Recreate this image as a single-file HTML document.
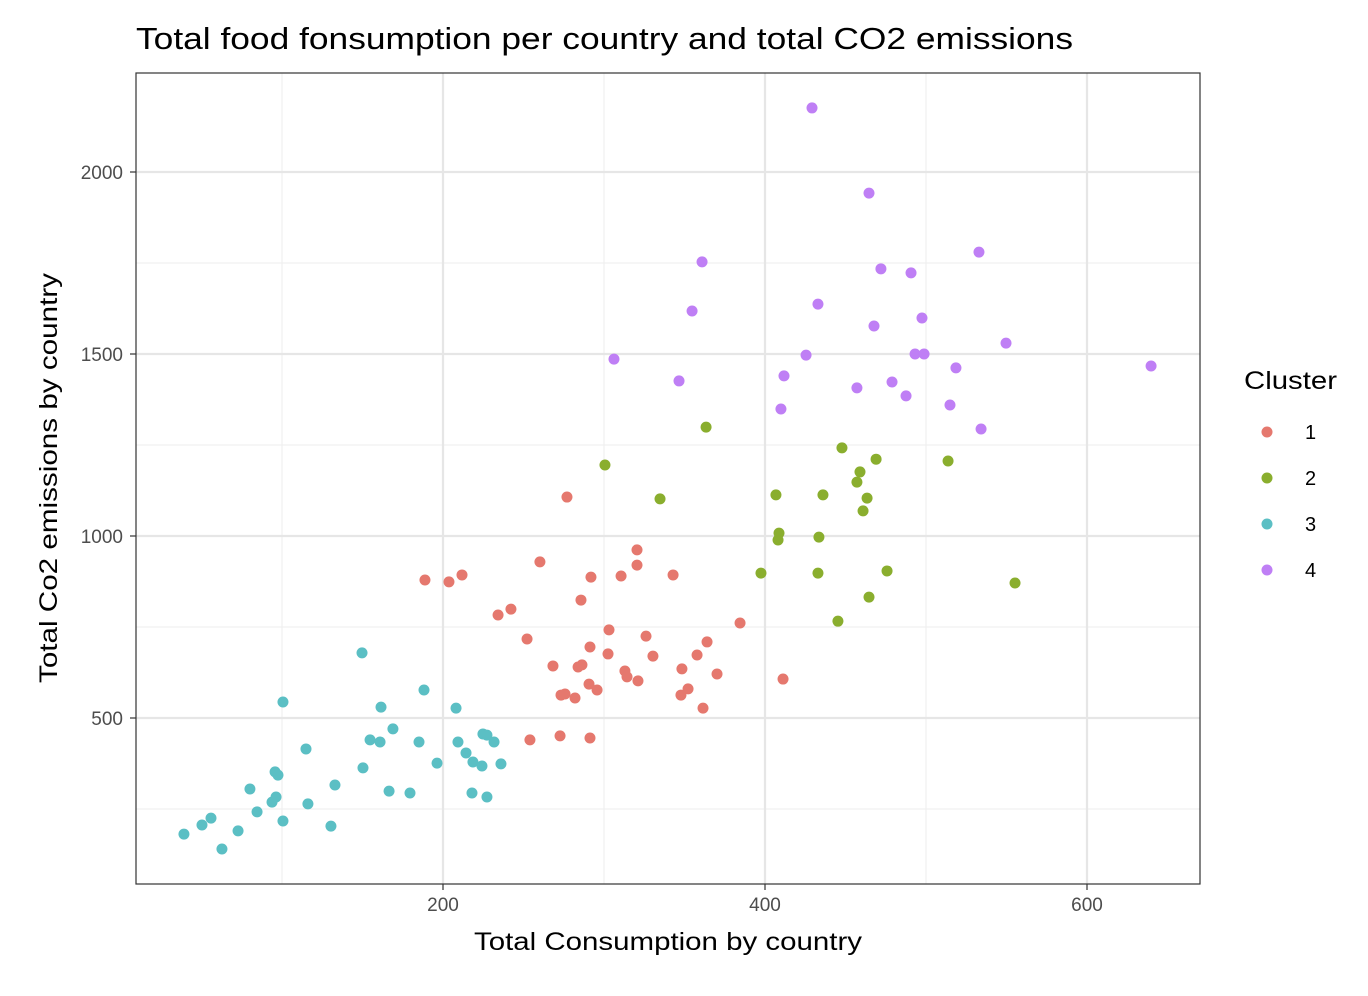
<!DOCTYPE html>
<html><head><meta charset="utf-8"><style>
body{margin:0;background:#fff;}
svg{display:block;font-family:"Liberation Sans",Arial,sans-serif;}
</style></head><body>
<svg id="chart" width="1368" height="996">
<text x="136" y="49" font-size="31" textLength="937" lengthAdjust="spacingAndGlyphs" fill="#000">Total food fonsumption per country and total CO2 emissions</text>
<g id="grid"></g><g id="pts"></g>
<rect x="136" y="73" width="1064" height="811" fill="none" stroke="#333" stroke-width="1.2"/>
<g id="ticks"></g>
<text x="474" y="950" font-size="25" textLength="388" lengthAdjust="spacingAndGlyphs" fill="#000">Total Consumption by country</text>
<text transform="translate(57,683) rotate(-90)" font-size="25" textLength="410" lengthAdjust="spacingAndGlyphs" fill="#000">Total Co2 emissions by country</text>
<g id="legend"></g>
</svg>
<script>
const xTicks=[200,400,600];
const yTicks=[500,1000,1500,2000];
const xMinor=[100,300,500];
const yMinor=[250,750,1250,1750];
const clusters=["1","2","3","4"];
const colors=["#E5786E","#8AAE2E","#5BBFC4","#BF7FF5"];
const c1x=[277,320.5,260.2,320.5,188.8,203.7,211.8,291.9,310.6,342.9,285.7,242.2,234.2,384.5,252.2,303.1,326.1,364,291.3,268.3,283.9,286.3,302.5,330.4,357.8,348.4,313,314.3,321.1,370.2,290.7,295.7,273.3,275.8,282,352.2,347.8,411.2,361.5,254,272.7,291.3];
const c1y=[1107,962,929,920,879,874,893,887,890,893,824,799,783,761,717,742,725,709,695,643,640,646,676,670,673,635,629,613,602,621,593,577,563,566,555,580,563,607,527,440,451,445];
const c2x=[363.4,300.6,447.8,469,513.7,459,457.1,334.8,406.8,436,463.4,460.9,408.7,408.1,433.5,397.5,432.9,475.8,555.3,464.6,445.3];
const c2y=[1299,1195,1242,1211,1206,1176,1148,1102,1113,1113,1104,1069,1008,989,997,898,898,904,871,832,766];
const c3x=[149.7,100.6,188.2,161.5,208.1,168.9,154.7,160.9,185.1,114.9,209.3,214.3,224.8,227.3,231.7,196.3,218.6,236,224.2,150.3,95.7,97.5,132.9,80.1,166.5,179.5,218,227.3,93.8,116.1,96.3,84.5,55.9,100.6,50.3,130.4,72.7,39.1,62.7];
const c3y=[679,544,577,530,527,470,440,434,434,415,434,404,456,453,434,376,379,374,368,363,352,343,316,305,299,294,294,283,269,264,283,242,225,217,206,203,190,181,140];
const c4x=[429.2,464.6,360.9,532.9,472,490.7,432.9,354.7,467.7,497.5,306.2,425.5,493.2,498.8,549.7,346.6,411.8,457.1,478.9,518.6,639.8,487.6,409.9,514.9,534.2];
const c4y=[2176,1942,1753,1780,1734,1723,1637,1618,1577,1599,1486,1497,1500,1500,1530,1426,1440,1407,1423,1462,1467,1385,1349,1360,1294];
const NS="http://www.w3.org/2000/svg";
const sx=v=>121+v*1.61, sy=v=>900-v*0.364;
function mk(tag,attrs,parent){const e=document.createElementNS(NS,tag);for(const k in attrs)e.setAttribute(k,attrs[k]);parent.appendChild(e);return e;}
const grid=document.getElementById('grid'),ticks=document.getElementById('ticks'),pts=document.getElementById('pts'),leg=document.getElementById('legend');
xMinor.forEach(v=>{const l=mk('line',{x1:sx(v),x2:sx(v),y1:73,y2:884,stroke:'#f0f0f0','stroke-width':1.2},grid);

});
yMinor.forEach(v=>{const l=mk('line',{x1:136,x2:1200,y1:sy(v),y2:sy(v),stroke:'#f0f0f0','stroke-width':1.2},grid);

});
xTicks.forEach(v=>{const l=mk('line',{x1:sx(v),x2:sx(v),y1:73,y2:884,stroke:'#e6e6e6','stroke-width':2.2},grid);


const t=mk('line',{x1:sx(v),x2:sx(v),y1:884,y2:890,stroke:'#333','stroke-width':1.2},ticks);


const tx=mk('text',{x:sx(v),y:911,'font-size':19,'text-anchor':'middle',fill:'#4d4d4d'},ticks);tx.textContent=v;

});
yTicks.forEach(v=>{const l=mk('line',{x1:136,x2:1200,y1:sy(v),y2:sy(v),stroke:'#e6e6e6','stroke-width':2.2},grid);


const t=mk('line',{x1:130,x2:136,y1:sy(v),y2:sy(v),stroke:'#333','stroke-width':1.2},ticks);


const tx=mk('text',{x:123,y:sy(v)+7,'font-size':19,'text-anchor':'end',fill:'#4d4d4d'},ticks);tx.textContent=v;

});
const series=[[c1x,c1y],[c2x,c2y],[c3x,c3y],[c4x,c4y]];
series.forEach((s,i)=>{s[0].forEach((xv,j)=>{const c=mk('circle',{cx:sx(xv),cy:sy(s[1][j]),r:5.5,fill:colors[i]},pts);

});});
const lt=mk('text',{x:1244,y:389,'font-size':25,textLength:93,lengthAdjust:'spacingAndGlyphs',fill:'#000'},leg);lt.textContent='Cluster';


clusters.forEach((c,i)=>{const y=432+i*46;
const d=mk('circle',{cx:1267,cy:y,r:5.5,fill:colors[i]},leg);


const t=mk('text',{x:1305,y:y+7,'font-size':20,fill:'#000'},leg);t.textContent=c;

});
</script>
</body></html>
